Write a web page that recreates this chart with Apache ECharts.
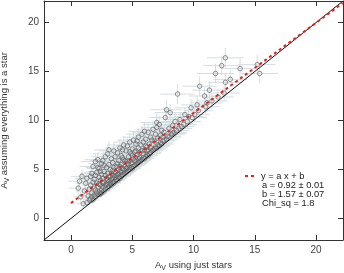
<!DOCTYPE html>
<html><head><meta charset="utf-8">
<script src="https://cdn.jsdelivr.net/npm/echarts@6/dist/echarts.min.js"></script>
<style>html,body{margin:0;padding:0;background:#fff}#c{width:344px;height:273px}</style>
</head><body><div id="c"></div>
<script>
// axis ticks
const tickValues = [0, 5, 10, 15, 20];
const axisRange = [-2.2, 22.2];
// fit parameters (from legend)
const fitA = 0.92, fitB = 1.57;
const fitRangeX = [0, 22.2];
const legendLines = ['y = a x + b', 'a = 0.92 \u00b1 0.01', 'b = 1.57 \u00b1 0.07', 'Chi_sq = 1.8'];
// stars: [Av just stars, Av assuming star, x error, y error]
const stars = [
[0.6,3.1,0.8,0.6],[0.8,2.2,0.6,0.5],[0.9,4.3,0.9,0.7],[1.0,1.5,0.5,0.4],[1.1,2.8,0.7,0.5],[1.2,3.6,0.8,0.6],[1.3,1.6,0.5,0.4],[1.3,4.1,1.0,0.7],[1.4,2.3,0.6,0.5],[1.5,3.0,0.7,0.5],[0.7,3.8,0.9,0.6],[1.5,1.9,0.5,0.4],
[1.6,2.0,0.6,0.4],[1.6,3.4,0.8,0.6],[1.7,4.6,1.0,0.7],[1.7,2.6,0.6,0.5],[1.8,1.9,0.5,0.4],[1.8,5.3,1.1,0.8],[1.9,3.1,0.7,0.5],[1.9,4.0,0.9,0.6],[2.0,2.2,0.5,0.4],[2.0,2.9,0.7,0.5],[2.0,5.8,1.2,0.8],[2.1,3.6,0.8,0.6],[2.1,4.7,1.0,0.7],[2.2,2.4,0.6,0.4],[2.2,3.2,0.7,0.5],[2.2,6.0,1.1,0.8],[2.3,2.7,0.6,0.5],[2.3,4.2,0.9,0.6],[2.3,5.1,1.0,0.7],[2.4,2.5,0.5,0.4],[2.4,3.4,0.8,0.5],[2.4,3.9,0.8,0.6],[2.5,2.9,0.6,0.5],[2.5,4.5,0.9,0.7],[2.5,5.6,1.1,0.8],[1.6,4.3,0.9,0.6],[1.7,2.2,0.6,0.4],[1.8,3.7,0.8,0.6],[1.9,2.4,0.6,0.4],[2.0,4.4,0.9,0.6],[2.1,2.6,0.6,0.5],[2.2,5.2,1.0,0.7],[2.3,3.5,0.8,0.5],[2.4,4.8,1.0,0.7],[2.5,2.6,0.5,0.4],
[2.6,3.2,0.7,0.5],[2.6,4.1,0.9,0.6],[2.6,5.9,1.1,0.8],[2.7,2.8,0.6,0.4],[2.7,3.7,0.8,0.5],[2.7,4.8,1.0,0.7],[2.8,3.0,0.6,0.4],[2.8,4.4,0.9,0.6],[2.8,6.3,1.2,0.8],[2.9,3.5,0.7,0.5],[2.9,5.2,1.0,0.7],[3.0,3.1,0.6,0.4],[3.0,3.9,0.8,0.6],[3.0,4.6,0.9,0.6],[3.0,6.6,1.2,0.9],[3.1,3.3,0.6,0.5],[3.1,5.5,1.1,0.7],[3.2,3.6,0.7,0.5],[3.2,4.3,0.8,0.6],[3.2,5.0,1.0,0.7],[3.3,3.4,0.6,0.4],[3.3,4.0,0.8,0.5],[3.3,6.1,1.1,0.8],[3.4,3.7,0.7,0.5],[3.4,4.9,1.0,0.7],[3.4,5.7,1.1,0.8],[3.5,3.6,0.6,0.4],[3.5,4.4,0.8,0.6],[3.5,6.9,1.2,0.9],[2.6,3.6,0.7,0.5],[2.7,5.4,1.0,0.7],[2.8,3.4,0.7,0.5],[2.9,4.1,0.8,0.6],[3.0,3.5,0.7,0.5],[3.1,4.2,0.8,0.6],[3.2,3.9,0.8,0.5],[3.3,4.6,0.9,0.6],[3.4,4.1,0.8,0.6],[3.5,5.2,1.0,0.7],[3.1,7.0,1.2,0.9],
[3.6,3.8,0.6,0.4],[3.6,4.7,0.9,0.6],[3.6,6.3,1.1,0.8],[3.7,4.0,0.7,0.5],[3.7,5.3,1.0,0.7],[3.8,3.9,0.6,0.4],[3.8,4.5,0.8,0.6],[3.8,6.7,1.2,0.8],[3.9,4.2,0.7,0.5],[3.9,5.0,0.9,0.7],[3.9,5.9,1.1,0.8],[4.0,4.1,0.6,0.4],[4.0,4.8,0.9,0.6],[4.0,7.2,1.2,0.9],[4.1,4.3,0.7,0.5],[4.1,5.5,1.0,0.7],[4.1,6.4,1.1,0.8],[4.2,4.4,0.7,0.5],[4.2,5.1,0.9,0.6],[4.3,4.5,0.7,0.5],[4.3,6.0,1.1,0.8],[4.3,7.5,1.3,0.9],[4.4,4.6,0.7,0.5],[4.4,5.3,0.9,0.7],[4.5,4.7,0.7,0.5],[4.5,5.8,1.0,0.7],[4.5,6.9,1.2,0.8],[3.6,4.2,0.7,0.5],[3.7,4.4,0.8,0.5],[3.8,5.6,1.0,0.7],[3.9,4.6,0.8,0.6],[4.0,5.3,0.9,0.7],[4.1,4.8,0.8,0.6],[4.2,6.2,1.1,0.8],[4.3,5.0,0.9,0.6],[4.4,5.9,1.0,0.8],[4.5,5.1,0.9,0.6],[4.2,7.0,1.2,0.9],
[4.6,4.8,0.7,0.5],[4.6,5.6,0.9,0.7],[4.6,7.4,1.2,0.9],[4.7,4.9,0.7,0.5],[4.7,6.3,1.1,0.8],[4.8,5.0,0.7,0.5],[4.8,5.9,1.0,0.7],[4.8,7.8,1.3,0.9],[4.9,5.2,0.8,0.5],[4.9,6.6,1.1,0.8],[5.0,5.1,0.7,0.5],[5.0,5.7,0.9,0.6],[5.0,7.1,1.2,0.8],[5.1,5.3,0.7,0.5],[5.1,6.1,1.0,0.7],[5.1,8.0,1.3,0.9],[5.2,5.4,0.8,0.5],[5.2,6.8,1.1,0.8],[5.3,5.5,0.8,0.5],[5.3,6.2,1.0,0.7],[5.3,7.6,1.2,0.9],[5.4,5.6,0.8,0.5],[5.4,6.5,1.0,0.7],[5.5,5.7,0.8,0.5],[5.5,7.2,1.2,0.8],[5.5,8.3,1.3,0.9],[4.6,5.2,0.8,0.6],[4.7,5.5,0.8,0.6],[4.8,6.8,1.1,0.8],[4.9,5.6,0.9,0.6],[5.0,6.4,1.0,0.7],[5.2,5.9,0.9,0.6],[5.3,6.9,1.1,0.8],[5.4,7.9,1.2,0.9],[5.5,6.1,0.9,0.6],
[5.6,5.8,0.8,0.5],[5.6,6.7,1.0,0.7],[5.7,5.9,0.8,0.5],[5.7,7.5,1.2,0.8],[5.8,6.0,0.8,0.5],[5.8,6.9,1.1,0.7],[5.8,8.6,1.3,0.9],[5.9,6.2,0.8,0.6],[5.9,7.8,1.2,0.8],[6.0,6.1,0.8,0.5],[6.0,7.0,1.1,0.7],[6.1,6.3,0.8,0.6],[6.1,8.1,1.2,0.9],[6.2,6.5,0.9,0.6],[6.2,7.3,1.1,0.8],[6.3,6.4,0.8,0.5],[6.3,8.8,1.3,0.9],[6.4,6.6,0.9,0.6],[6.4,7.6,1.1,0.8],[6.5,6.7,0.9,0.6],[6.5,8.3,1.2,0.9],[5.6,6.2,0.9,0.6],[5.9,6.6,0.9,0.6],[6.0,8.9,1.3,0.9],[6.2,6.9,1.0,0.7],[6.3,7.0,1.0,0.7],[6.5,7.2,1.0,0.7],[6.1,7.4,1.1,0.8],
[6.6,6.9,0.9,0.6],[6.6,8.0,1.2,0.8],[6.7,7.0,0.9,0.6],[6.7,9.1,1.3,0.9],[6.8,7.1,0.9,0.6],[6.8,7.9,1.1,0.8],[6.9,7.3,1.0,0.6],[6.9,8.6,1.2,0.9],[7.0,7.2,0.9,0.6],[7.0,9.3,1.3,0.9],[7.1,7.5,1.0,0.7],[7.1,8.2,1.1,0.8],[7.2,7.4,0.9,0.6],[7.2,9.6,1.3,0.9],[7.3,7.7,1.0,0.7],[7.3,8.5,1.2,0.8],[7.4,7.6,1.0,0.6],[7.4,9.0,1.2,0.9],[7.5,7.9,1.0,0.7],[7.5,8.3,1.1,0.8],
[7.6,8.0,1.0,0.7],[7.6,8.8,1.2,0.8],[7.7,10.3,1.3,0.9],[7.8,8.1,1.0,0.7],[7.8,11.1,1.3,1.0],[7.9,8.4,1.1,0.7],[8.0,8.3,1.0,0.7],[8.0,9.2,1.2,0.8],[8.1,10.8,1.3,0.9],[8.2,8.6,1.1,0.7],[8.3,9.5,1.2,0.8],[8.3,8.7,1.1,0.7],[8.4,8.8,1.1,0.7],[8.5,9.9,1.2,0.9],[7.0,9.8,1.3,0.9],
[8.6,9.0,1.1,0.7],[8.7,12.7,1.4,1.0],[8.8,9.2,1.1,0.7],[8.9,10.1,1.2,0.8],[9.0,9.4,1.1,0.7],[9.2,9.6,1.1,0.7],[9.3,10.6,1.2,0.8],[9.5,9.9,1.1,0.7],[9.6,10.4,1.2,0.8],[9.8,11.3,1.3,0.9],[9.9,10.3,1.2,0.8],[10.1,10.6,1.2,0.8],[10.3,11.6,1.3,0.9],[10.4,11.0,1.2,0.8],[10.5,13.5,1.4,1.0],
[10.9,12.5,1.3,0.9],[11.1,11.8,1.3,0.9],[11.3,13.1,1.4,0.9],[11.0,11.4,1.2,0.8],[11.5,12.0,1.3,0.8],[11.8,14.8,1.5,1.0],[12.3,15.6,1.5,1.0],[12.6,16.4,1.5,1.0],[12.6,13.9,1.4,0.9],[13.0,14.2,1.4,0.9],[12.0,12.4,1.3,0.8],[12.5,12.8,1.3,0.8],[13.8,15.3,1.5,1.0],[15.2,15.7,1.5,1.0],[15.4,14.8,1.5,1.0]
];

const fitData = fitRangeX.map(x => [x, fitA * x + fitB]);
const identityData = axisRange.map(v => [v, v]);

const FONT = 'Liberation Sans, Arial, sans-serif';
const axisColor = '#333';
function mkX(pos, labels) {
  return {
    type: 'value', min: axisRange[0], max: axisRange[1], position: pos,
    axisLine: { show: true, onZero: false, lineStyle: { color: axisColor, width: 1 } },
    axisTick: { show: true, inside: true, length: 5, customValues: tickValues, lineStyle: { color: axisColor } },
    axisLabel: { show: labels, customValues: tickValues, color: '#444', fontSize: 10, fontFamily: FONT, margin: 5 },
    splitLine: { show: false }
  };
}
function mkY(pos, labels) {
  const o = mkX(pos, labels);
  o.axisLabel.margin = 5;
  return o;
}
const xa = mkX('bottom', true);
Object.assign(xa, {
  name: '{a|A}{v|V}{a| using just stars}', nameLocation: 'middle', nameGap: 17,
  nameTextStyle: { color: '#333', fontFamily: FONT, rich: { a: { fontSize: 9.5, fontFamily: FONT, color: '#333' }, v: { fontSize: 7, fontFamily: FONT, color: '#333', padding: [6, 0, 0, 0] } } }
});
const ya = mkY('left', true);
Object.assign(ya, {
  name: '{a|A}{v|V}{a| assuming everything is a star}', nameLocation: 'middle', nameGap: 33,
  nameTextStyle: { color: '#333', fontFamily: FONT, rich: { a: { fontSize: 9.5, fontFamily: FONT, color: '#333' }, v: { fontSize: 7, fontFamily: FONT, color: '#333', padding: [6, 0, 0, 0] } } }
});

const chart = echarts.init(document.getElementById('c'), null, { renderer: 'canvas' });
chart.setOption({
  animation: false,
  backgroundColor: '#fff',
  grid: { left: 44, right: 1, top: 1, bottom: 33, containLabel: false, outerBoundsMode: 'none' },
  xAxis: [xa, mkX('top', false)],
  yAxis: [ya, mkY('right', false)],
  series: [
    {
      type: 'custom', xAxisIndex: 0, yAxisIndex: 0, z: 1, clip: true,
      data: stars,
      encode: { x: 0, y: 1 },
      renderItem: function (params, api) {
        const x = api.value(0), y = api.value(1), ex = api.value(2), ey = api.value(3);
        const l = api.coord([x - ex, y]), r = api.coord([x + ex, y]);
        const t = api.coord([x, y + ey]), b = api.coord([x, y - ey]);
        const st = { stroke: '#d4dde1', lineWidth: 1 };
        return { type: 'group', children: [
          { type: 'line', shape: { x1: l[0], y1: l[1], x2: r[0], y2: r[1] }, style: st },
          { type: 'line', shape: { x1: t[0], y1: t[1], x2: b[0], y2: b[1] }, style: st }
        ] };
      }
    },
    {
      type: 'scatter', z: 2, data: stars.map(s => [s[0], s[1]]),
      symbol: 'circle', symbolSize: 4.5,
      itemStyle: { color: 'rgba(255,255,255,0)', borderColor: '#666', borderWidth: 0.9 }
    },
    {
      type: 'line', z: 3, data: identityData, symbol: 'none',
      lineStyle: { color: '#111', width: 1 }
    },
    {
      type: 'line', z: 4, data: fitData, symbol: 'none',
      lineStyle: { color: '#e3231d', width: 2, type: [3, 3] }
    }
  ],
  graphic: [
    { type: 'line', shape: { x1: 245, y1: 176, x2: 256, y2: 176 }, style: { stroke: '#e3231d', lineWidth: 2, lineDash: [3, 3] } },
    { type: 'text', x: 261, y: 176, style: { text: legendLines[0], font: '9.3px ' + FONT, fill: '#222', verticalAlign: 'middle' } },
    { type: 'text', x: 262, y: 185, style: { text: legendLines[1], font: '9.3px ' + FONT, fill: '#222', verticalAlign: 'middle' } },
    { type: 'text', x: 262, y: 194, style: { text: legendLines[2], font: '9.3px ' + FONT, fill: '#222', verticalAlign: 'middle' } },
    { type: 'text', x: 262, y: 203.5, style: { text: legendLines[3], font: '9.3px ' + FONT, fill: '#222', verticalAlign: 'middle' } }
  ]
});
</script>
</body></html>
